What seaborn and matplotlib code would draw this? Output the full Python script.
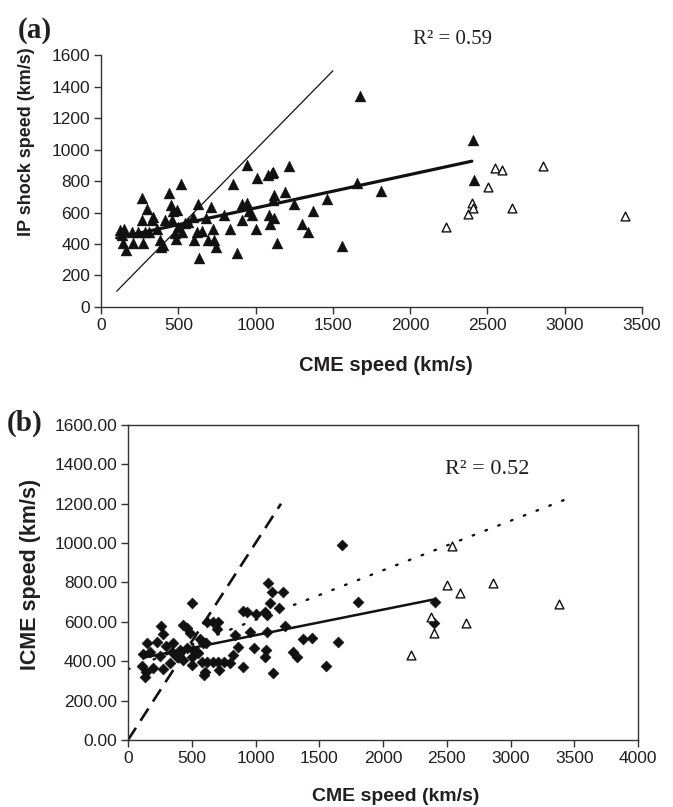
import matplotlib
matplotlib.use("Agg")
import matplotlib.pyplot as plt
import seaborn as sns
import numpy as np
import pandas as pd

# ---------------- Panel (a) data ----------------
a_cme = [121, 149, 132, 143, 160, 197, 203, 240, 266, 272, 262, 294, 283, 311, 326, 337, 359, 380, 384, 398,
         413, 441, 449, 456, 466, 477, 484, 492, 499, 514, 521, 542, 564, 596, 600, 618, 628, 635, 650, 678,
         693, 708, 725, 730, 743, 797, 834, 855, 881, 909, 909, 942, 946, 959, 974, 1000, 1010, 1082, 1088, 1093,
         1104, 1114, 1110, 1119, 1119, 1136, 1190, 1218, 1248, 1298, 1341, 1373, 1464, 1557, 1656, 1676, 1812,
         2405, 2414]
a_shock = [489, 493, 457, 404, 362, 478, 404, 478, 690, 404, 552, 620, 478, 478, 552, 573, 493, 425, 383, 394,
           552, 726, 648, 552, 612, 468, 430, 616, 510, 781, 478, 531, 542, 573, 425, 478, 654, 309, 483, 563,
           425, 633, 493, 425, 379, 584, 495, 781, 345, 654, 552, 902, 662, 612, 584, 493, 817, 838, 584, 527,
           849, 859, 679, 711, 563, 404, 732, 897, 654, 527, 478, 612, 684, 387, 789, 1342, 736,
           1060, 806]
a_open_cme = [2233, 2377, 2399, 2410, 2507, 2550, 2597, 2662, 2863, 3392]
a_open_shock = [506, 588, 658, 626, 764, 881, 870, 631, 897, 578]
a_fit_x = [100, 2400]
a_fit_y = [438, 926]
a_ref_x = [100, 1500]
a_ref_y = [100, 1500]
a_r2 = "R² = 0.59"

# ---------------- Panel (b) data ----------------
b_cme = [1100, 1126, 1212, 499, 1113, 1186, 899, 930, 1003, 1074, 1087,
         622, 664, 708, 700, 434, 460, 256, 277, 486, 564, 585, 612,
         838, 956, 1087, 1230, 151, 225, 355, 298, 120, 172, 251, 342, 408, 460, 512, 538, 381, 434, 499, 551,
         864, 990, 1081, 1296, 1322, 1374, 1447, 825, 1074,
         107, 141, 133, 198, 272, 329, 499, 578, 603, 622, 664, 708, 752, 799, 596, 716, 904, 1134, 1552,
         1648, 1675, 1800, 2406, 2398]
b_icme = [799, 753, 753, 697, 697, 668, 655, 648, 640, 648, 634,
          600, 600, 600, 562, 584, 567, 579, 538, 542, 511, 491, 491,
          533, 550, 550, 579, 494, 499, 494, 477, 437, 448, 426, 448, 457, 465, 457, 448, 420, 406, 423, 440,
          474, 465, 457, 448, 423, 511, 516, 431, 420,
          376, 347, 321, 364, 359, 389, 381, 397, 347, 397, 397, 397, 397, 390, 330, 355, 369, 342, 376,
          499, 990, 699, 699, 595]
b_open_cme = [2223, 2380, 2398, 2503, 2545, 2602, 2654, 2863, 3380]
b_open_icme = [431, 623, 545, 787, 986, 745, 595, 795, 690]
b_fit_x = [120, 2414]
b_fit_y = [418, 716]
b_allfit_x = [0, 3500]
b_allfit_y = [359, 1239]
b_ref_x = [0, 1200]
b_ref_y = [0, 1200]
b_r2 = "R² = 0.52"

# ---------------- Style ----------------
sns.set_style("white")
plt.rcParams['font.family'] = ['Liberation Sans', 'DejaVu Sans']
TXT = '#231f20'
INK = '#111111'

fig = plt.figure(figsize=(6.73, 8.07), dpi=100)
axA = fig.add_axes([0.1505, 0.6196, 0.9535 - 0.1505, 0.9318 - 0.6196])
axB = fig.add_axes([0.1902, 0.0830, 0.9480 - 0.1902, 0.4734 - 0.0830])

# ---- Panel (a)
sns.lineplot(x=a_ref_x, y=a_ref_y, ax=axA, color=INK, lw=0.9, estimator=None, sort=False)
sns.scatterplot(x=a_cme, y=a_shock, ax=axA, marker='^', s=62, color=INK, edgecolor=INK, linewidth=0.3, zorder=3)
sns.scatterplot(x=a_open_cme, y=a_open_shock, ax=axA, marker='^', s=40, facecolor='white',
                edgecolor=INK, linewidth=1.0, zorder=3)
sns.lineplot(x=a_fit_x, y=a_fit_y, ax=axA, color=INK, lw=2.3, estimator=None, sort=False, zorder=4)

axA.set_xlim(0, 3500)
axA.set_ylim(0, 1600)
axA.set_xticks(np.arange(0, 3501, 500))
axA.set_yticks(np.arange(0, 1601, 200))
for s in ['top', 'right']:
    axA.spines[s].set_visible(False)

# ---- Panel (b)
sns.lineplot(x=b_allfit_x, y=b_allfit_y, ax=axB, color=INK, lw=1.7, estimator=None, sort=False,
             linestyle=(0, (0.7, 5.1)), dash_capstyle='round', zorder=2)
sns.lineplot(x=b_ref_x, y=b_ref_y, ax=axB, color=INK, lw=1.9, estimator=None, sort=False,
             linestyle=(0, (5.5, 3.2)), zorder=2)
sns.scatterplot(x=b_cme, y=b_icme, ax=axB, marker='D', s=30, color=INK, edgecolor=INK, linewidth=0.5, zorder=3)
sns.scatterplot(x=b_open_cme, y=b_open_icme, ax=axB, marker='^', s=40, facecolor='white',
                edgecolor=INK, linewidth=1.0, zorder=3)
sns.lineplot(x=b_fit_x, y=b_fit_y, ax=axB, color=INK, lw=1.8, estimator=None, sort=False, zorder=4)

axB.set_xlim(0, 4000)
axB.set_ylim(0, 1600)
axB.set_xticks(np.arange(0, 4001, 500))
axB.set_yticks(np.arange(0, 1601, 200))
axB.set_yticklabels([f"{v:.2f}" for v in np.arange(0, 1601, 200)])

for ax in (axA, axB):
    for s in ax.spines.values():
        s.set_color('#333333')
        s.set_linewidth(1.0)
    ax.tick_params(axis='both', direction='out', length=5, width=1.0, color='#333333',
                   labelsize=12.5, labelcolor=TXT, pad=3, bottom=True, left=True)
    ax.grid(False)

# labels
axA.set_xlabel("CME speed (km/s)", fontsize=14.5, fontweight='bold', color=TXT)
axA.xaxis.set_label_coords(0.527, -0.234)
axA.xaxis.label.set_va('center')
axA.set_ylabel("IP shock speed (km/s)", fontsize=13, fontweight='bold', color=TXT)
axA.yaxis.set_label_coords(-0.1375, 0.655)
axA.yaxis.label.set_va('center')

axB.set_xlabel("CME speed (km/s)", fontsize=14, fontweight='bold', color=TXT)
axB.xaxis.set_label_coords(0.525, -0.178)
axB.xaxis.label.set_va('center')
axB.set_ylabel("ICME speed (km/s)", fontsize=15.5, fontweight='bold', color=TXT)
axB.yaxis.set_label_coords(-0.192, 0.524)
axB.yaxis.label.set_va('center')

axA.text(0.649, 1.06, a_r2, transform=axA.transAxes, ha='center', va='center',
         fontsize=15, family=['Liberation Serif', 'DejaVu Serif'], color=TXT, clip_on=False)
axB.text(0.704, 0.860, b_r2, transform=axB.transAxes, ha='center', va='center',
         fontsize=16, family=['Liberation Serif', 'DejaVu Serif'], color=TXT)

fig.text(35 / 673, 1 - 31 / 807, "(a)", ha='center', va='center', fontsize=21, fontweight='bold',
         family=['Liberation Serif', 'DejaVu Serif'], color=TXT)
fig.text(25 / 673, 1 - 423 / 807, "(b)", ha='center', va='center', fontsize=21, fontweight='bold',
         family=['Liberation Serif', 'DejaVu Serif'], color=TXT)

fig.savefig("out.png", dpi=100, facecolor='white')
